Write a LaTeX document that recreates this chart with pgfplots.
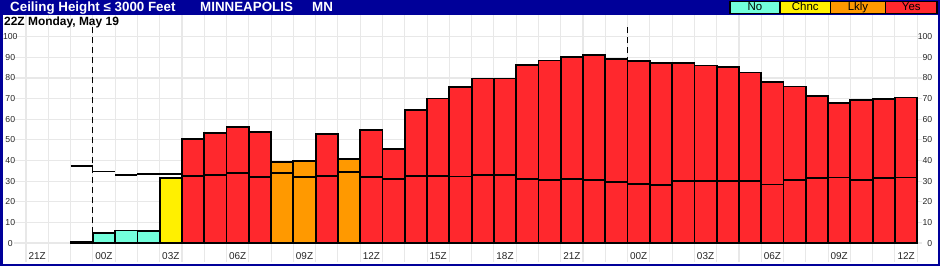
\documentclass[border=0pt]{standalone}
\usepackage{pgfplots}
\pgfplotsset{compat=1.18}
\usepackage{fontspec}
\setmainfont{Liberation Sans}
\definecolor{navy}{RGB}{0,0,153}
\definecolor{cNo}{RGB}{115,255,220}
\definecolor{cChnc}{RGB}{255,240,0}
\definecolor{cLkly}{RGB}{255,153,0}
\definecolor{cYes}{RGB}{255,40,45}
\definecolor{gridc}{RGB}{232,232,232}
\begin{document}
\begin{tikzpicture}
\fill[navy] (0bp,0bp) rectangle (940bp,266bp);
\fill[white] (2.5bp,2bp) rectangle (937.5bp,251bp);
\pgfplotsset{chartgeom/.style={
  scale only axis, width=907.7bp, height=246.5bp,
  xmin=-0.54, xmax=40.2, ymin=-9, ymax=110.5,
  at={(13.97bp,4.4bp)}, anchor=south west,
  /pgf/number format/assume math mode=true,
  major tick length=0pt, minor tick length=0pt,
  axis line style={draw=none},
}}
\begin{axis}[chartgeom,
  axis x line=bottom, axis y line=left,
  xtick={0.5,3.5,6.5,9.5,12.5,15.5,18.5,21.5,24.5,27.5,30.5,33.5,36.5,39.5},
  xticklabels={21Z,00Z,03Z,06Z,09Z,12Z,15Z,18Z,21Z,00Z,03Z,06Z,09Z,12Z},
  minor xtick={0,1,...,40},
  xminorgrids=true, xmajorgrids=false, ymajorgrids=true,
  major grid style={draw=gridc, line width=1.1bp},
  minor grid style={draw=gridc, line width=1.1bp},
  ytick={0,10,...,100},
  yticklabel style={anchor=center, inner sep=0pt, xshift=-3.7bp, font=\fontsize{8.7}{9}\selectfont, text=black!85},
  xticklabel style={anchor=center, inner sep=0pt, yshift=5.1bp, font=\fontsize{10}{11}\selectfont, text=black!85},
  clip=false,
]
\addplot[black, line width=1.3bp, dash pattern=on 6bp off 4bp, forget plot] coordinates {(3,0) (3,105.7)};
\addplot[black, line width=1.3bp, dash pattern=on 6bp off 4bp, forget plot] coordinates {(27,0) (27,105.7)};
% No
\addplot[ybar, bar width=1, bar shift=0pt, fill=cNo, draw=black, line width=1.8bp] coordinates {
(2.5,0.5) (3.5,4.7) (4.5,6.1) (5.5,5.7)};
% Chnc
\addplot[ybar, bar width=1, bar shift=0pt, fill=cChnc, draw=black, line width=1.8bp] coordinates {
(6.5,31.7)};
% Lkly
\addplot[ybar, bar width=1, bar shift=0pt, fill=cLkly, draw=black, line width=1.8bp] coordinates {
(11.5,39.4) (12.5,39.9) (14.5,40.6)};
% Yes
\addplot[ybar, bar width=1, bar shift=0pt, fill=cYes, draw=black, line width=1.8bp] coordinates {
(7.5,50.6) (8.5,53.5) (9.5,56.2) (10.5,54.0) (13.5,52.7) (15.5,54.8) (16.5,45.6)
(17.5,64.3) (18.5,70.1) (19.5,75.5) (20.5,79.8) (21.5,79.8) (22.5,86.3) (23.5,88.5)
(24.5,90.0) (25.5,91.0) (26.5,89.3) (27.5,88.4) (28.5,87.1) (29.5,87.1) (30.5,86.1)
(31.5,85.2) (32.5,82.7) (33.5,77.9) (34.5,75.9) (35.5,71.1) (36.5,67.9) (37.5,69.2)
(38.5,69.7) (39.5,70.6)};
% step line
\addplot[black, line width=1.8bp, jump mark left] coordinates {
(2,37.3) (3,34.7) (4,32.8) (5,33.3) (6,33.3) (7,32.6) (8,33.1) (9,33.8) (10,32.1)
(11,33.8) (12,32.1) (13,32.6) (14,34.3) (15,32.1) (16,30.9) (17,32.6) (18,32.6)
(19,32.3) (20,32.8) (21,32.8) (22,30.9) (23,30.4) (24,30.9) (25,30.4) (26,29.4)
(27,28.6) (28,28.0) (29,29.9) (30,29.9) (31,29.9) (32,29.9) (33,28.4) (34,30.4)
(35,31.4) (36,31.8) (37,30.4) (38,31.4) (39,31.8) (40,31.8)};
\end{axis}
\begin{axis}[chartgeom,
  axis x line=none, axis y line=right,
  ytick={0,10,...,100},
  yticklabel style={anchor=east, inner sep=0pt, xshift=10.8bp, font=\fontsize{8.7}{9}\selectfont, text=black!85},
]
\addplot[draw=none, forget plot] coordinates {(0,0)};
\end{axis}
\node[anchor=base west, inner sep=0pt, text=white, font=\bfseries\fontsize{13.4}{14}\selectfont] at (10bp,254bp) {Ceiling Height ≤ 3000 Feet};
\node[anchor=base west, inner sep=0pt, text=white, font=\bfseries\fontsize{13.4}{14}\selectfont] at (200bp,254bp) {MINNEAPOLIS};
\node[anchor=base west, inner sep=0pt, text=white, font=\bfseries\fontsize{13.4}{14}\selectfont] at (312bp,254bp) {MN};
\node[anchor=base west, inner sep=0pt, font=\bfseries\fontsize{12}{13}\selectfont] at (4bp,240bp) {22Z Monday, May 19};
\draw[fill=cNo, line width=1.2bp] (730bp,252.7bp) rectangle (780bp,264.3bp);
\draw[fill=cChnc, line width=1.2bp] (780bp,252.7bp) rectangle (830.5bp,264.3bp);
\draw[fill=cLkly, line width=1.2bp] (830.5bp,252.7bp) rectangle (885.5bp,264.3bp);
\draw[fill=cYes, line width=1.2bp] (885.5bp,252.7bp) rectangle (937bp,264.3bp);
\node[anchor=base, inner sep=0pt, font=\fontsize{11.5}{12}\selectfont] at (755bp,255bp) {No};
\node[anchor=base, inner sep=0pt, font=\fontsize{11.5}{12}\selectfont] at (805.25bp,255bp) {Chnc};
\node[anchor=base, inner sep=0pt, font=\fontsize{11.5}{12}\selectfont] at (858bp,255bp) {Lkly};
\node[anchor=base, inner sep=0pt, font=\fontsize{11.5}{12}\selectfont] at (911.25bp,255bp) {Yes};
\pgfresetboundingbox
\useasboundingbox (0bp,0bp) rectangle (940bp,266bp);
\end{tikzpicture}
\end{document}
